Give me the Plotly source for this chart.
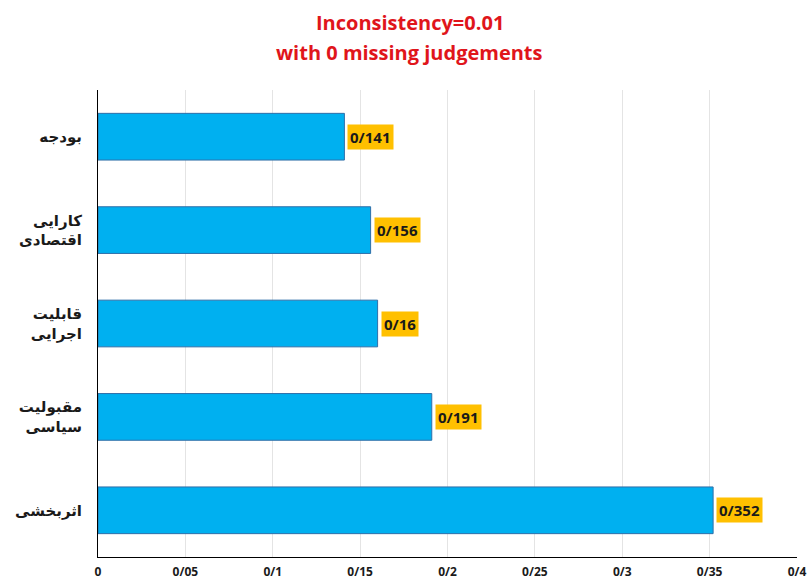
import plotly.graph_objects as go

categories = ["بودجه", "کارایی<br>اقتصادی", "قابلیت<br>اجرایی", "مقبولیت<br>سیاسی", "اثربخشی"]
values = [0.141, 0.156, 0.16, 0.191, 0.352]
value_labels = ["0/141", "0/156", "0/16", "0/191", "0/352"]
tick_vals = [0, 0.05, 0.1, 0.15, 0.2, 0.25, 0.3, 0.35, 0.4]
tick_text = ["0", "0/05", "0/1", "0/15", "0/2", "0/25", "0/3", "0/35", "0/4"]
title_lines = ["Inconsistency=0.01", "with 0 missing judgements"]

fig = go.Figure()
fig.add_trace(go.Bar(
    x=values, y=categories, orientation="h",
    marker=dict(color="#00B0F0", line=dict(color="#2F6FA8", width=1)),
    width=0.5, hoverinfo="skip",
))

for v, lab, cat in zip(values, value_labels, categories):
    fig.add_annotation(
        x=v, y=cat, text="<b>" + lab + "</b>", showarrow=False,
        xanchor="left", xshift=3, bgcolor="#FFC000",
        font=dict(family="Open Sans, Arial", size=15, color="#1a1a1a"),
        borderpad=2,
    )

for line, shift in zip(title_lines, [68, 38]):
    fig.add_annotation(
        x=0.446, y=1, xref="paper", yref="paper", yanchor="middle", yshift=shift,
        text="<b>" + line + "</b>", showarrow=False,
        font=dict(family="Open Sans, Arial", size=20, color="#E0151B"),
    )

fig.update_layout(
    width=811, height=583,
    margin=dict(l=98, r=14, t=90, b=26),
    plot_bgcolor="white", paper_bgcolor="white",
    showlegend=False,
    xaxis=dict(
        range=[0, 0.4], tickvals=tick_vals, ticktext=tick_text,
        showgrid=True, gridcolor="#E4E4E4", gridwidth=1,
        zeroline=False, showline=True, linecolor="black", linewidth=1,
        tickfont=dict(family="Open Sans, Arial", size=12, color="#1a1a1a", weight="bold"),
        ticklabelstandoff=4, automargin=False,
    ),
    yaxis=dict(
        categoryorder="array", categoryarray=categories, autorange="reversed",
        showline=True, linecolor="black", linewidth=1, showgrid=False,
        tickfont=dict(family="DejaVu Sans", size=15, color="#1a1a1a", weight="bold"),
        ticklabelstandoff=12, automargin=False,
    ),
)

fig.write_html("out.html")
